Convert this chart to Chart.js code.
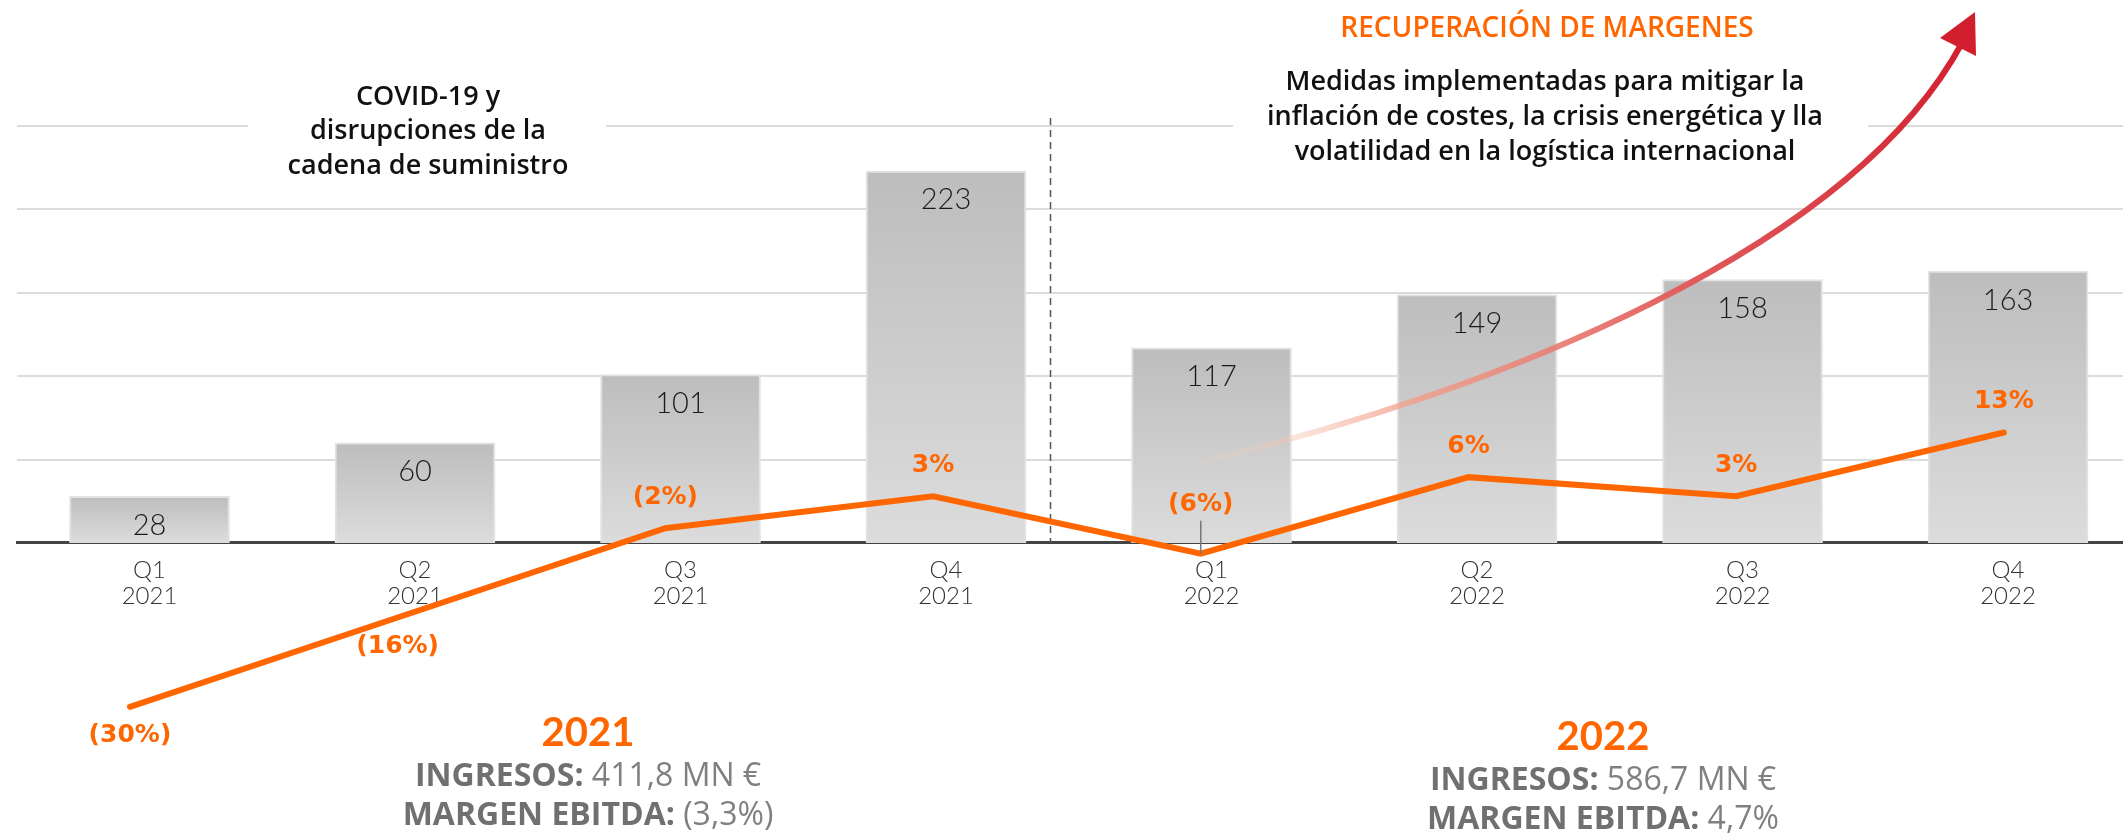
<!DOCTYPE html>
<html lang="es">
<head>
<meta charset="utf-8">
<title>Ingresos y margen EBITDA trimestral</title>
<script src="https://cdn.jsdelivr.net/npm/chart.js@4.4.1/dist/chart.umd.min.js"></script>
<style>
  html, body { margin: 0; padding: 0; background: #fff; overflow: hidden; }
  #wrap { position: relative; width: 2123px; height: 835px; }
</style>
</head>
<body>
<div id="wrap"><canvas id="quarterChart"></canvas></div>
<script>
// quarterly revenue (MN €) and EBITDA margin (%)
const quarters = ['Q1', 'Q2', 'Q3', 'Q4', 'Q1', 'Q2', 'Q3', 'Q4'];
const years = ['2021', '2021', '2021', '2021', '2022', '2022', '2022', '2022'];
const ingresos = [28, 60, 101, 223, 117, 149, 158, 163];
const margen = [-30, -16, -2, 3, -6, 6, 3, 13];
const margenLabels = ['(30%)', '(16%)', '(2%)', '3%', '(6%)', '6%', '3%', '13%'];
const gridValues = [50, 100, 150, 200, 250];

const covidNote = ['COVID-19 y', 'disrupciones de la', 'cadena de suministro'];
const recoveryTitle = 'RECUPERACIÓN DE MARGENES';
const recoveryNote = ['Medidas implementadas para mitigar la', 'inflación de costes, la crisis energética y lla', 'volatilidad en la logística internacional'];
const summaryYears = ['2021', '2022'];
const summaryIngresos = ['411,8 MN €', '586,7 MN €'];
const summaryMargen = ['(3,3%)', '4,7%'];

const ORANGE = '#ff6600';
const FONT = 'Lato, "Open Sans", sans-serif';
const TEXT_FONT = '"Open Sans", Lato, sans-serif';
const LABEL_FONT = '"DejaVu Sans", "Open Sans", sans-serif';

function barGradient(ctx) {
    const chart = ctx.chart;
    if (!chart.chartArea || ctx.type !== 'data') return '#cccccc';
    const y = chart.scales.y;
    const top = y.getPixelForValue(ctx.raw.y);
    const base = y.getPixelForValue(0);
    const g = chart.ctx.createLinearGradient(0, top, 0, base);
    g.addColorStop(0, '#bdbdbd');
    g.addColorStop(1, '#dcdcdc');
    return g;
}

function centeredLines(c, lines, x, y0, step) {
    lines.forEach((t, i) => c.fillText(t, x, y0 + i * step));
}

// label + value on one line, centred as a whole
function mixedLine(c, label, value, cx, y) {
    c.font = '700 32px ' + TEXT_FONT;
    const w1 = c.measureText(label + ' ').width;
    c.font = '400 32px ' + TEXT_FONT;
    const w2 = c.measureText(value).width;
    const x = cx - (w1 + w2) / 2;
    c.textAlign = 'left';
    c.font = '700 32px ' + TEXT_FONT;
    c.fillStyle = '#707070';
    c.fillText(label + ' ', x, y);
    c.font = '400 32px ' + TEXT_FONT;
    c.fillStyle = '#808080';
    c.fillText(value, x + w1, y);
    c.textAlign = 'center';
}

const annotations = {
    id: 'annotations',
    beforeDatasetsDraw(chart) {
        const c = chart.ctx;
        const xs = chart.scales.x;
        const ys = chart.scales.y;
        c.save();
        // white boxes behind the notes cut the top grid line
        c.fillStyle = '#ffffff';
        c.fillRect(248, 70, 358, 110);
        c.fillRect(1233, 60, 635, 112);

        // split between 2021 and 2022
        const dx = Math.round(xs.getPixelForValue(3.39)) + 0.5;
        c.strokeStyle = '#555555';
        c.lineWidth = 1.5;
        c.setLineDash([7, 5]);
        c.beginPath();
        c.moveTo(dx, 118);
        c.lineTo(dx, ys.getPixelForValue(0));
        c.stroke();
        c.setLineDash([]);

        c.textAlign = 'center';
        c.textBaseline = 'middle';
        c.fillStyle = '#111111';
        c.font = '600 27px ' + TEXT_FONT;
        centeredLines(c, covidNote, 428, 97, 34.5);
        centeredLines(c, recoveryNote, 1545, 82, 35);
        c.fillStyle = ORANGE;
        c.font = '600 28px ' + TEXT_FONT;
        c.fillText(recoveryTitle, 1547, 29);

        // yearly summaries
        const cxs = [588, 1603];
        const ys0 = [733, 737];
        summaryYears.forEach((yr, i) => {
            c.fillStyle = ORANGE;
            c.font = '700 40px ' + FONT;
            c.fillText(yr, cxs[i], ys0[i]);
            mixedLine(c, 'INGRESOS:', summaryIngresos[i], cxs[i], ys0[i] + 44);
            mixedLine(c, 'MARGEN EBITDA:', summaryMargen[i], cxs[i], ys0[i] + 83);
        });
        c.restore();
    },
    afterDatasetsDraw(chart) {
        const c = chart.ctx;
        c.save();
        // recovery arrow
        const g = c.createLinearGradient(1202, 462, 1962, 43);
        g.addColorStop(0, 'rgba(252, 215, 195, 0.1)');
        g.addColorStop(0.25, 'rgba(240, 160, 140, 0.85)');
        g.addColorStop(0.6, '#e05a5a');
        g.addColorStop(1, '#d21f30');
        c.strokeStyle = g;
        c.lineWidth = 6;
        c.beginPath();
        c.moveTo(1202, 462);
        c.bezierCurveTo(1500, 390, 1850, 250, 1962, 43);
        c.stroke();
        c.fillStyle = '#d21f30';
        c.beginPath();
        c.moveTo(1975, 12);
        c.lineTo(1940, 38);
        c.lineTo(1976, 56);
        c.closePath();
        c.fill();

        c.textAlign = 'center';
        c.textBaseline = 'middle';
        // bar values
        c.fillStyle = '#1a1a1a';
        c.font = '300 29px ' + FONT;
        chart.getDatasetMeta(0).data.forEach((bar, i) => {
            c.fillText(String(ingresos[i]), bar.x, bar.y + 29);
        });
        // margin labels
        c.fillStyle = ORANGE;
        c.font = '700 25px ' + LABEL_FONT;
        chart.getDatasetMeta(1).data.forEach((pt, i) => {
            let y = margen[i] <= -10 ? pt.y + 29 : pt.y - 31;
            if (i === 4) {
                y = pt.y - 49;
                c.strokeStyle = '#777777';
                c.lineWidth = 1.5;
                c.beginPath();
                c.moveTo(pt.x, pt.y - 33);
                c.lineTo(pt.x, pt.y);
                c.stroke();
            }
            c.fillText(margenLabels[i], pt.x, y);
        });
        c.restore();
    }
};

new Chart(document.getElementById('quarterChart'), {
    data: {
        datasets: [
            {
                type: 'bar',
                label: 'Ingresos',
                data: ingresos.map((v, i) => ({ x: i, y: v })),
                backgroundColor: barGradient,
                borderColor: '#e2e2e2',
                borderWidth: 2,
                borderSkipped: 'bottom',
                barThickness: 160,
                grouped: false,
                xAxisID: 'x',
                yAxisID: 'y',
                order: 2
            },
            {
                type: 'line',
                label: 'Margen EBITDA',
                data: margen.map((v, i) => ({ x: i, y: v })),
                borderColor: ORANGE,
                borderWidth: 6,
                borderCapStyle: 'round',
                pointRadius: 0,
                tension: 0,
                clip: false,
                xAxisID: 'x2',
                yAxisID: 'y2',
                order: 1
            }
        ]
    },
    options: {
        responsive: true,
        maintainAspectRatio: false,
        animation: false,
        layout: { padding: { left: 17, right: 0, top: 0, bottom: 0 } },
        plugins: {
            legend: { display: false },
            tooltip: { enabled: false }
        },
        scales: {
            x: {
                type: 'linear',
                position: { y: 0 },
                offset: false,
                min: -0.499,
                max: 7.433,
                afterBuildTicks: axis => { axis.ticks = ingresos.map((_, i) => ({ value: i })); },
                grid: { display: true, offset: false, drawOnChartArea: false, drawTicks: false },
                border: { display: true, color: '#444444', width: 3 },
                ticks: {
                    autoSkip: false,
                    maxRotation: 0,
                    padding: 14,
                    color: '#333333',
                    font: { family: FONT, size: 24, weight: '300', lineHeight: 1.1 },
                    callback: (v, i) => [quarters[i], years[i]]
                }
            },
            x2: { type: 'linear', display: false, offset: false, min: -0.422, max: 7.445 },
            y: {
                position: 'left',
                min: -175.1,
                max: 325.6,
                afterBuildTicks: axis => { axis.ticks = gridValues.map(v => ({ value: v })); },
                ticks: { display: false },
                grid: { color: '#dcdcdc', lineWidth: 2, drawTicks: false },
                border: { display: false }
            },
            y2: { display: false, min: -50.1, max: 80.8 }
        }
    },
    plugins: [annotations]
});
</script>
</body>
</html>
